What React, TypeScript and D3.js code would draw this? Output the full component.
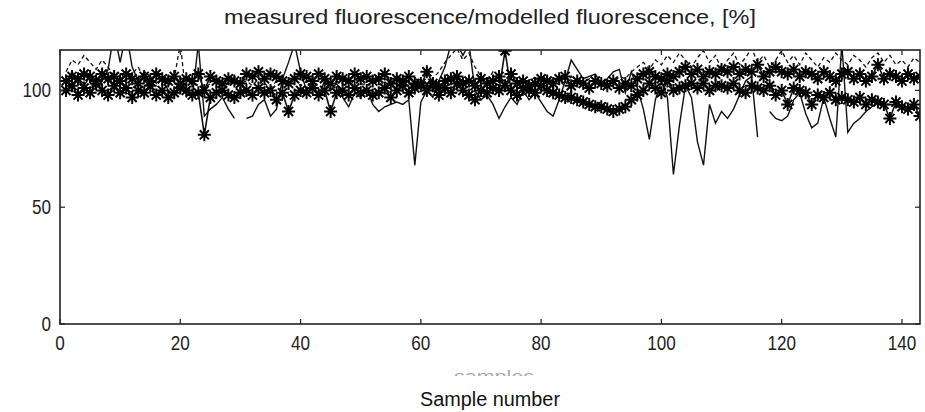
import React, { useEffect, useRef } from "react";
import * as d3 from "d3";

const xTicks = [0, 20, 40, 60, 80, 100, 120, 140];
const yTicks = [0, 50, 100];

const starsUpper = [
  104,106,105,107,106,104,107,105,106,104,
  107,105,103,106,104,107,105,104,106,103,
  105,104,107,100,106,104,103,105,104,103,
  107,106,108,105,107,106,104,103,105,107,
  106,104,107,105,103,106,105,104,107,105,
  106,104,105,107,103,105,104,106,103,102,
  108,103,101,104,105,106,103,104,102,105,
  103,104,106,102,107,103,104,102,103,105,
  104,103,105,106,102,104,103,101,104,103,
  102,104,101,103,102,105,107,108,106,105,
  107,106,108,110,107,109,106,108,107,109,
  108,110,107,109,108,111,106,108,110,108,
  107,109,106,108,107,105,108,106,104,107,
  108,105,107,104,106,111,105,107,106,104,
  107,105,106,
];

const starsLower = [
  100,102,98,101,99,103,100,98,102,99,
  101,97,100,99,102,98,100,97,99,101,
  100,98,99,81,97,99,100,98,97,99,
  100,98,101,99,100,96,99,91,98,100,
  99,101,98,100,91,99,100,98,101,99,
  100,98,99,101,97,100,102,99,101,103,
  100,102,98,101,99,103,100,98,96,100,
  99,101,100,117,100,98,101,100,99,102,
  100,99,98,97,97,96,95,94,93,93,
  92,91,92,93,96,98,100,103,101,99,
  104,100,101,102,103,101,103,100,102,102,
  101,103,100,99,102,101,100,102,98,100,
  94,101,100,99,94,98,97,99,96,97,
  96,95,97,94,96,95,94,88,95,93,
  92,94,89,
];

const solidSeries: (number | null)[] = [
  103,108,104,102,106,101,104,109,125,112,
  125,110,104,108,106,103,105,100,98,102,
  99,97,120,89,92,94,97,92,88,null,
  88,89,94,96,89,92,105,112,120,108,
  100,103,98,104,100,103,97,93,99,97,
  101,94,91,93,94,95,94,96,68,95,
  100,97,104,110,120,120,115,120,100,96,
  98,94,88,93,97,94,100,96,99,95,
  91,89,96,104,113,109,105,106,107,103,
  105,108,109,99,108,101,92,79,96,104,
  97,64,85,102,97,78,68,94,86,91,
  88,92,98,104,106,80,null,91,88,87,
  89,96,99,90,84,86,97,88,80,120,
  82,86,88,91,93,95,94,94,94,92,
  91,93,92,
];

const dashedSeries: (number | null)[] = [
  108,113,111,115,112,109,113,110,106,108,
  104,107,110,105,103,107,104,102,105,120,
  97,104,102,101,103,105,104,102,106,103,
  104,102,105,103,101,104,106,103,105,102,
  104,101,103,105,102,104,103,101,105,103,
  102,104,103,101,105,102,104,103,101,104,
  103,105,108,112,115,118,113,116,110,106,
  104,108,106,103,105,102,104,103,106,104,
  103,105,104,102,106,104,103,105,104,102,
  104,103,106,105,108,110,112,109,113,111,
  115,112,116,113,110,114,117,112,115,109,
  113,116,111,114,118,112,115,110,113,117,
  112,115,111,116,113,110,114,112,116,113,
  111,115,113,110,114,116,112,115,111,113,
  110,114,112,
];

const W = 925;
const H = 412;
const M = { left: 60, right: 920, top: 50, bottom: 324 };

export default function App() {
  const ref = useRef<SVGSVGElement>(null);

  useEffect(() => {
    const svg = d3.select(ref.current);
    svg.selectAll("*").remove();

    const x = d3.scaleLinear().domain([0, 143]).range([M.left, M.right]);
    const y = d3.scaleLinear().domain([0, 117.3]).range([M.bottom, M.top]);
    const font = "'Liberation Sans', Arial, sans-serif";

    svg.append("rect").attr("width", W).attr("height", H).attr("fill", "#fff");

    const defs = svg.append("defs");
    defs.append("clipPath").attr("id", "plotclip")
      .append("rect")
      .attr("x", M.left).attr("y", M.top)
      .attr("width", M.right - M.left).attr("height", M.bottom - M.top);
    defs.append("clipPath").attr("id", "labelclip")
      .append("rect").attr("x", 0).attr("y", 0).attr("width", W).attr("height", 376);

    const g = svg.append("g").attr("clip-path", "url(#plotclip)");

    const mk = (arr: (number | null)[]) => arr.map((v, i) => ({ s: i + 1, v }));
    const line = d3.line<{ s: number; v: number | null }>()
      .defined((d) => d.v !== null)
      .x((d) => x(d.s))
      .y((d) => y(d.v as number));

    g.append("path").datum(mk(dashedSeries)).attr("d", line)
      .attr("fill", "none").attr("stroke", "#111").attr("stroke-width", 1.3)
      .attr("stroke-dasharray", "4,3");
    g.append("path").datum(mk(solidSeries)).attr("d", line)
      .attr("fill", "none").attr("stroke", "#111").attr("stroke-width", 1.4);

    const starPath = (r: number) =>
      `M0,${-r}L0,${r}M${-r},0L${r},0M${-r * 0.7},${-r * 0.7}L${r * 0.7},${r * 0.7}M${-r * 0.7},${r * 0.7}L${r * 0.7},${-r * 0.7}`;

    [starsLower, starsUpper].forEach((arr) => {
      const data = mk(arr);
      g.append("path").datum(data).attr("d", line)
        .attr("fill", "none").attr("stroke", "#111").attr("stroke-width", 1.6);
      g.selectAll(null).data(data).enter().append("path")
        .attr("transform", (d) => `translate(${x(d.s)},${y(d.v as number)})`)
        .attr("d", starPath(6.5))
        .attr("stroke", "#000").attr("stroke-width", 2).attr("fill", "none");
    });

    // frame
    svg.append("rect")
      .attr("x", M.left).attr("y", M.top)
      .attr("width", M.right - M.left).attr("height", M.bottom - M.top)
      .attr("fill", "none").attr("stroke", "#222").attr("stroke-width", 1.6);

    const tl = 5;
    xTicks.forEach((t) => {
      svg.append("line").attr("x1", x(t)).attr("x2", x(t))
        .attr("y1", M.bottom).attr("y2", M.bottom - tl)
        .attr("stroke", "#222").attr("stroke-width", 1.2);
      svg.append("line").attr("x1", x(t)).attr("x2", x(t))
        .attr("y1", M.top).attr("y2", M.top + tl)
        .attr("stroke", "#222").attr("stroke-width", 1.2);
      const lbl = String(t);
      svg.append("text").attr("x", x(t)).attr("y", 350)
        .attr("text-anchor", "middle").attr("font-family", font)
        .attr("font-size", 20).attr("fill", "#222")
        .attr("textLength", lbl.length * 9.5).attr("lengthAdjust", "spacingAndGlyphs")
        .text(lbl);
    });
    yTicks.forEach((t) => {
      svg.append("line").attr("x1", M.left).attr("x2", M.left + tl)
        .attr("y1", y(t)).attr("y2", y(t))
        .attr("stroke", "#222").attr("stroke-width", 1.2);
      svg.append("line").attr("x1", M.right).attr("x2", M.right - tl)
        .attr("y1", y(t)).attr("y2", y(t))
        .attr("stroke", "#222").attr("stroke-width", 1.2);
      const lbl = String(t);
      svg.append("text").attr("x", M.left - 9).attr("y", y(t) + 7)
        .attr("text-anchor", "end").attr("font-family", font)
        .attr("font-size", 20).attr("fill", "#222")
        .attr("textLength", lbl.length * 9.5).attr("lengthAdjust", "spacingAndGlyphs")
        .text(lbl);
    });

    svg.append("text").attr("x", 490).attr("y", 24)
      .attr("text-anchor", "middle").attr("font-family", font)
      .attr("font-size", 20).attr("fill", "#222")
      .attr("textLength", 532).attr("lengthAdjust", "spacingAndGlyphs")
      .text("measured fluorescence/modelled fluorescence, [%]");

    svg.append("text").attr("x", 494).attr("y", 382)
      .attr("text-anchor", "middle").attr("font-family", font)
      .attr("font-size", 16).attr("fill", "#aaa")
      .attr("textLength", 80).attr("lengthAdjust", "spacingAndGlyphs")
      .attr("clip-path", "url(#labelclip)")
      .text("samples");

    svg.append("text").attr("x", 490).attr("y", 406)
      .attr("text-anchor", "middle").attr("font-family", font)
      .attr("font-size", 20).attr("fill", "#111")
      .attr("textLength", 140).attr("lengthAdjust", "spacingAndGlyphs")
      .text("Sample number");
  }, []);

  return (
    <svg ref={ref} width={W} height={H}
      style={{ position: "absolute", left: 0, top: 0, display: "block" }} />
  );
}
